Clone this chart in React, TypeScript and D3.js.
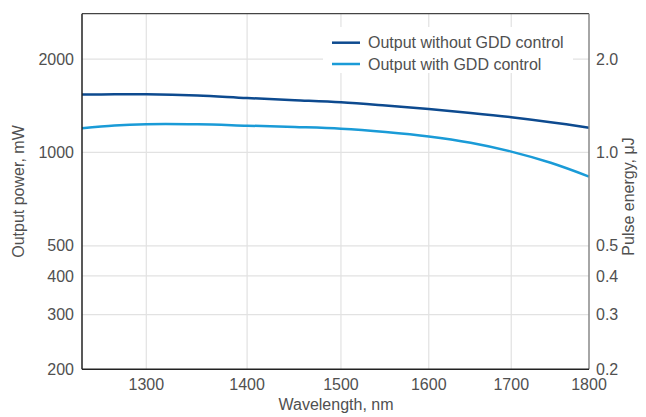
import React from "react";
import * as d3 from "d3";

const wavelengths = [1240, 1270, 1300, 1350, 1400, 1450, 1500, 1550, 1600, 1650, 1700, 1750, 1800];
const withoutGDD = [1536, 1539, 1540, 1526, 1497, 1474, 1451, 1417, 1381, 1341, 1299, 1252, 1202];
const withGDD = [1197, 1222, 1233, 1232, 1220, 1208, 1193, 1164, 1126, 1074, 1006, 926, 836];
const xTicks = [1300, 1400, 1500, 1600, 1700, 1800];
const yTicks = [200, 300, 400, 500, 1000, 2000];
const yRightLabels = ["0.2", "0.3", "0.4", "0.5", "1.0", "2.0"];
const seriesNames = ["Output without GDD control", "Output with GDD control"];

const W = 646;
const H = 417;
const left = 82;
const right = 589;
const top = 13.7;
const bottom = 369.3;
const FONT = "'Liberation Sans', Arial, Helvetica, sans-serif";
const TEXT = "#505050";
const GRID = "#e2e2e2";
const DARK = "#0d4a8f";
const LIGHT = "#1a9bd7";

export default function App() {
  const x = d3.scaleLog().domain([1240, 1800]).range([left, right]);
  const y = d3.scaleLog().domain([200, 2800]).range([bottom, top]);
  const line = d3
    .line<number>()
    .x((_, i) => x(wavelengths[i]))
    .y((d) => y(d))
    .curve(d3.curveCatmullRom.alpha(0.5));

  const legend = { x0: 323, x1: 573, y0: 27, y1: 73 };

  return (
    <svg
      width={W}
      height={H}
      style={{ position: "absolute", left: 0, top: 0, background: "#fff" }}
      fontFamily={FONT}
    >
      {/* grid */}
      {xTicks.slice(0, -1).map((t) => (
        <line key={"gx" + t} x1={x(t)} x2={x(t)} y1={top} y2={bottom} stroke={GRID} strokeWidth={1.2} />
      ))}
      {yTicks.slice(1).map((t) => (
        <line key={"gy" + t} x1={left} x2={right} y1={y(t)} y2={y(t)} stroke={GRID} strokeWidth={1.2} />
      ))}
      {/* legend background */}
      <rect x={legend.x0} y={legend.y0} width={legend.x1 - legend.x0} height={legend.y1 - legend.y0} fill="#fff" />

      {/* series */}
      <path d={line(withoutGDD) || ""} fill="none" stroke={DARK} strokeWidth={2.5} />
      <path d={line(withGDD) || ""} fill="none" stroke={LIGHT} strokeWidth={2.5} />

      {/* frame */}
      <line x1={left} x2={right} y1={top} y2={top} stroke="#444" strokeWidth={1.2} />
      <line x1={right} x2={right} y1={top} y2={bottom} stroke="#888" strokeWidth={1.5} />
      <line x1={left} x2={left} y1={top} y2={bottom} stroke="#222" strokeWidth={1.5} />
      <line x1={left} x2={right} y1={bottom} y2={bottom} stroke="#222" strokeWidth={1.5} />

      {/* left tick labels */}
      {yTicks.map((t) => (
        <text key={"ly" + t} x={74} y={y(t)} dy="0.35em" textAnchor="end" fontSize={16} fill={TEXT}>
          {t}
        </text>
      ))}
      {/* right tick labels */}
      {yTicks.map((t, i) => (
        <text key={"ry" + t} x={596} y={y(t)} dy="0.35em" textAnchor="start" fontSize={16} fill={TEXT}>
          {yRightLabels[i]}
        </text>
      ))}
      {/* x tick labels */}
      {xTicks.map((t) => (
        <text key={"lx" + t} x={x(t)} y={389.5} textAnchor="middle" fontSize={16} fill={TEXT}>
          {t}
        </text>
      ))}

      {/* axis titles */}
      <text x={(left + right) / 2 + 0.5} y={410} textAnchor="middle" fontSize={16} fill={TEXT}>
        Wavelength, nm
      </text>
      <text
        transform={`translate(24, ${(top + bottom) / 2}) rotate(-90)`}
        textAnchor="middle"
        fontSize={16}
        fill={TEXT}
      >
        Output power, mW
      </text>
      <text
        transform={`translate(634, ${(top + bottom) / 2 + 5}) rotate(-90)`}
        textAnchor="middle"
        fontSize={16}
        fill={TEXT}
      >
        Pulse energy, μJ
      </text>

      {/* legend */}
      {seriesNames.map((name, i) => {
        const ly = i === 0 ? 42.7 : 64;
        return (
          <g key={name}>
            <line x1={332} x2={360} y1={ly} y2={ly} stroke={i === 0 ? DARK : LIGHT} strokeWidth={2.5} />
            <text x={368} y={ly} dy="0.35em" fontSize={16} fill={TEXT}>
              {name}
            </text>
          </g>
        );
      })}
    </svg>
  );
}
